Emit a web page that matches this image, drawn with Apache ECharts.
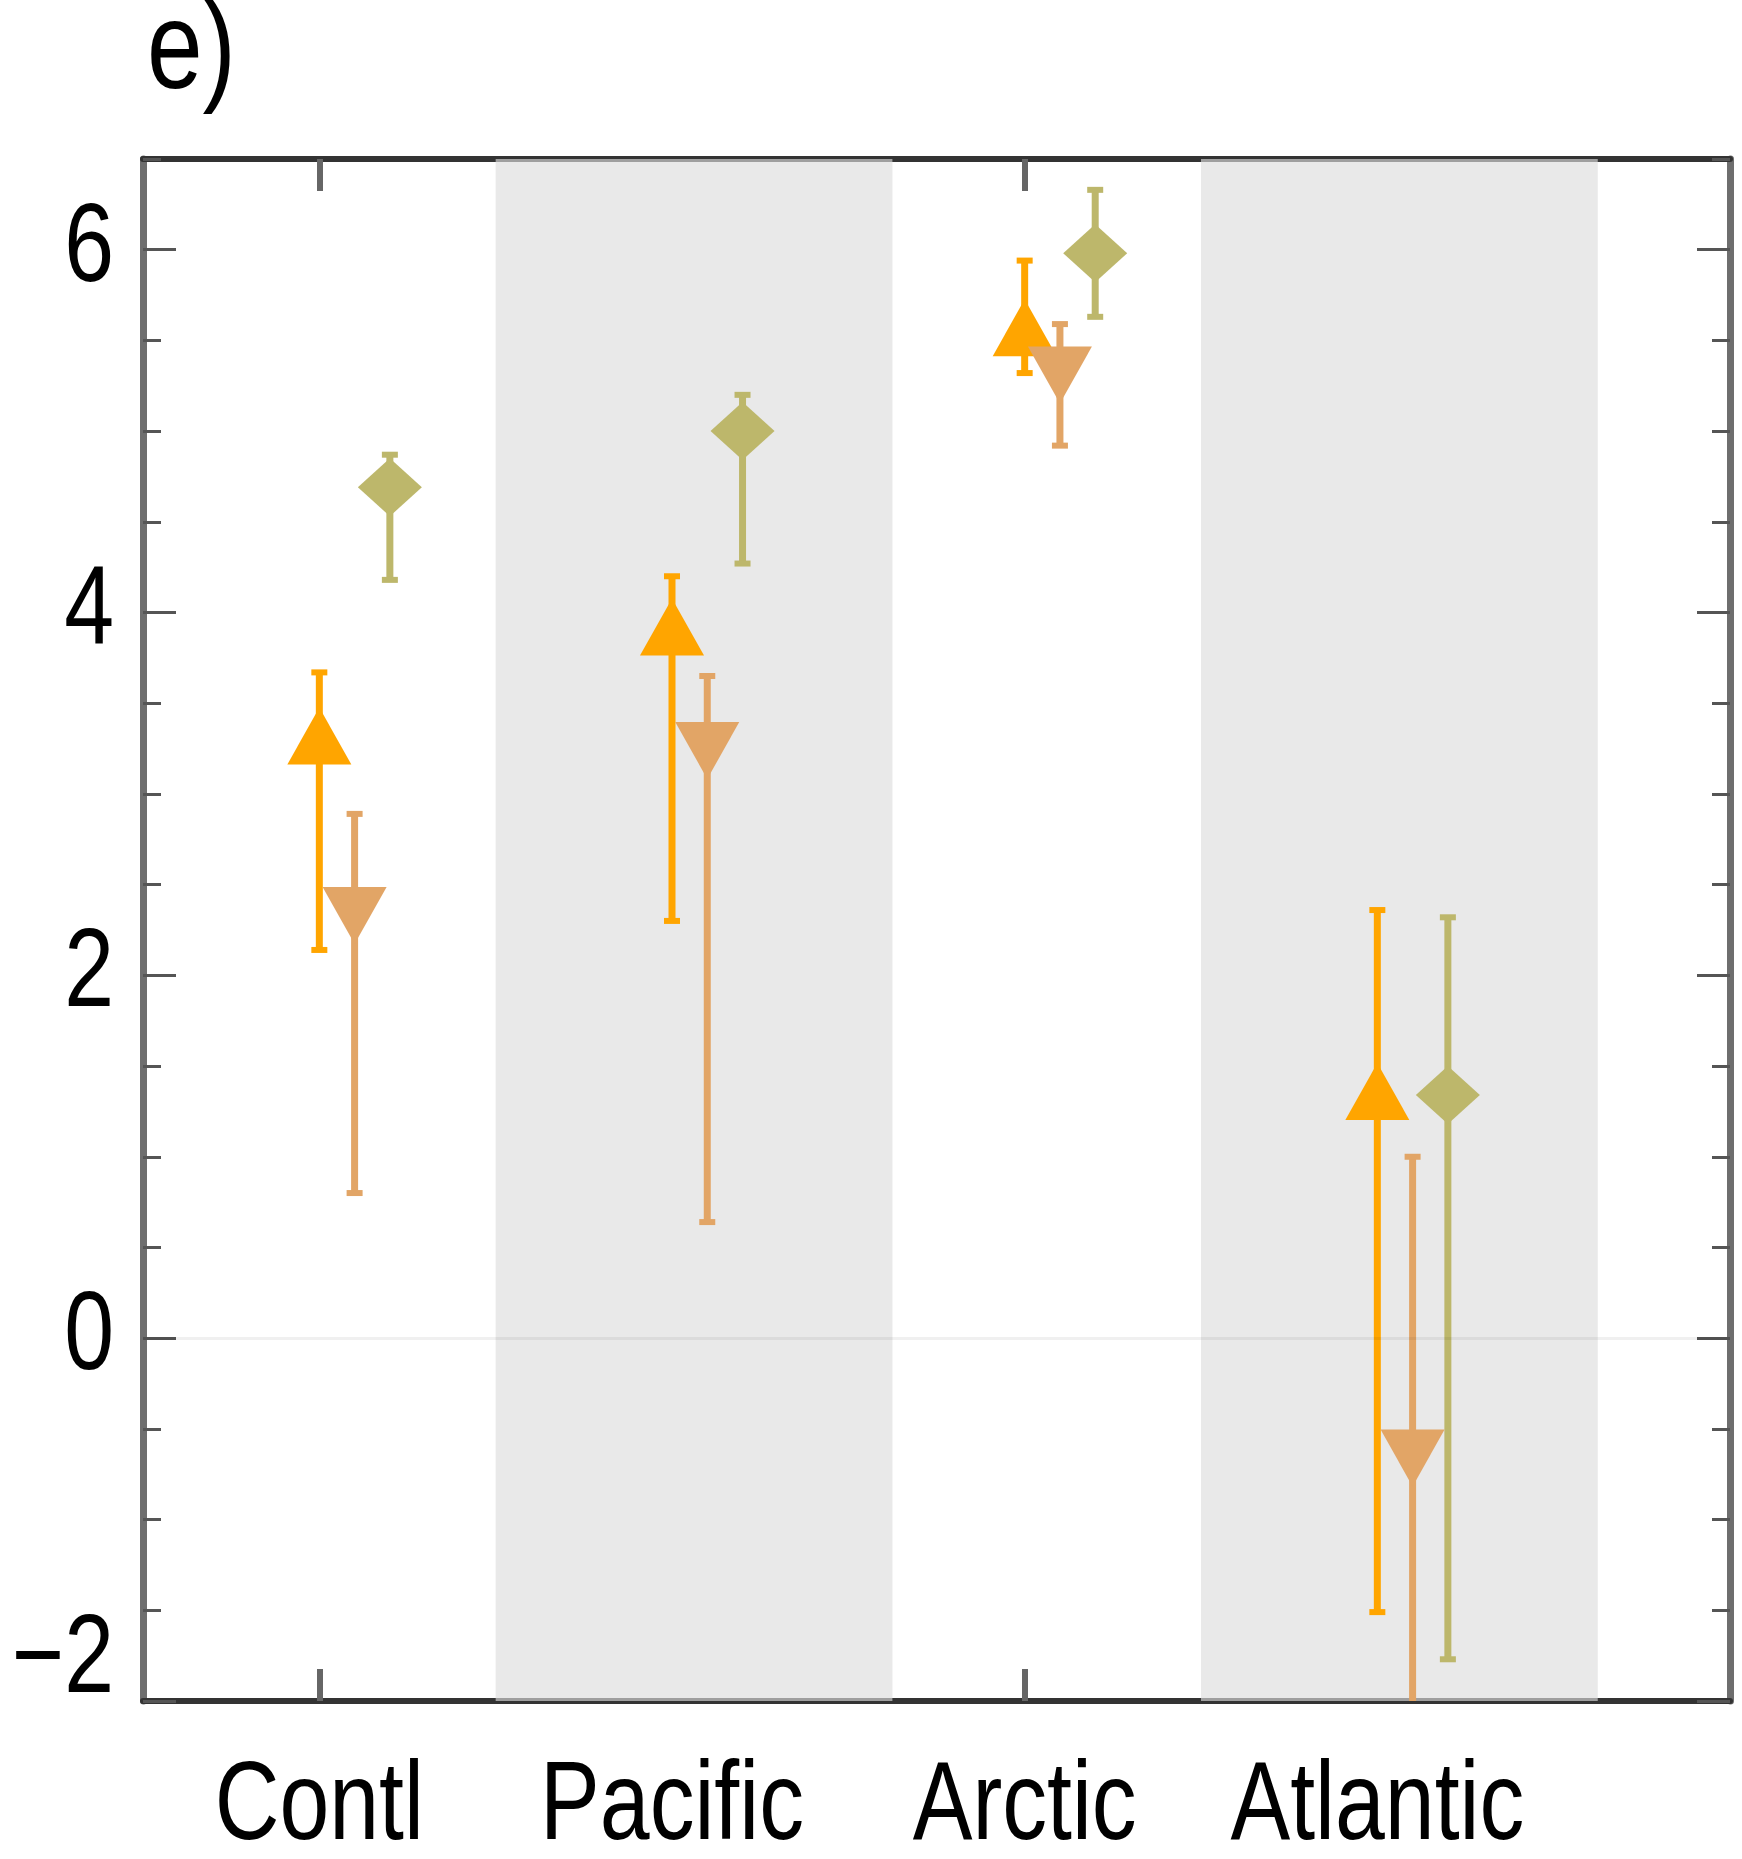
<!DOCTYPE html>
<html>
<head>
<meta charset="utf-8">
<title>e)</title>
<script src="https://cdn.jsdelivr.net/npm/echarts@6/dist/echarts.min.js"></script>
<style>
    html, body { margin: 0; padding: 0; background: #fff; }
    #chart { width: 1742px; height: 1859px; }
</style>
</head>
<body>
<div id="chart"></div>
<script>
    // regions along the x axis (value positions 1..4)
    var regions = ['Contl', 'Pacific', 'Arctic', 'Atlantic'];
    var regionPos = [1, 2, 3, 4];

    // up-triangle series
    var upMean = [3.32, 3.92, 5.57, 1.36];
    var upLow = [2.14, 2.30, 5.32, -1.51];
    var upHigh = [3.67, 4.20, 5.94, 2.36];

    // down-triangle series
    var downMean = [2.33, 3.24, 5.31, -0.66];
    var downLow = [0.80, 0.64, 4.92, -2.5];
    var downHigh = [2.89, 3.65, 5.59, 1.00];

    // diamond series
    var diaMean = [4.69, 5.00, 5.98, 1.34];
    var diaLow = [4.18, 4.27, 5.63, -1.77];
    var diaHigh = [4.87, 5.20, 6.33, 2.32];

    var yTicks = [-2, 0, 2, 4, 6];
    var xTicks = [1, 3];
    var shadedBands = [[1.5, 2.625], [3.5, 4.625]];

    var font = "'Liberation Sans', Arial, sans-serif";
    // the original lettering is narrow, squeeze it horizontally
    var squeeze = 0.8;

    function points (mean, offset) {
        return mean.map(function (v, i) { return [regionPos[i] + offset, v]; });
    }

    function bars (low, high, offset) {
        return low.map(function (v, i) { return [regionPos[i] + offset, v, high[i]]; });
    }

    function renderErrorBar (params, api) {
        var x = api.value(0);
        var lo = api.coord([x, api.value(1)]);
        var hi = api.coord([x, api.value(2)]);
        var color = api.visual('color');
        return {
            type: 'group',
            children: [
                { type: 'line', shape: { x1: lo[0], y1: lo[1], x2: hi[0], y2: hi[1] }, style: { stroke: color, lineWidth: 7 } },
                { type: 'rect', shape: { x: hi[0] - 8, y: hi[1] - 3, width: 16, height: 6 }, style: { fill: color } },
                { type: 'rect', shape: { x: lo[0] - 8, y: lo[1] - 3, width: 16, height: 6 }, style: { fill: color } }
            ]
        };
    }

    function errorSeries (low, high, offset, color) {
        return {
            type: 'custom',
            clip: true,
            renderItem: renderErrorBar,
            itemStyle: { color: color, opacity: 0.92 },
            encode: { x: 0, y: [1, 2] },
            data: bars(low, high, offset),
            silent: true
        };
    }

    function markerSeries (mean, offset, symbol, size, rotate, color) {
        return {
            type: 'scatter',
            data: points(mean, offset),
            symbol: symbol,
            symbolSize: size,
            symbolRotate: rotate,
            itemStyle: { color: color, opacity: 1 },
            silent: true
        };
    }

    function yAxisOf (position, major) {
        return {
            type: 'value',
            position: position,
            min: -2,
            max: 6.5,
            interval: 0.5,
            splitLine: { show: false },
            axisLine: { show: major, onZero: false, lineStyle: { color: '#6e6e6e', width: 7 } },
            axisTick: {
                show: true,
                inside: true,
                length: major ? 33 : 18,
                customValues: major ? yTicks : undefined,
                lineStyle: { color: '#555', width: 3 }
            },
            axisLabel: { show: false }
        };
    }

    function xAxisOf (position) {
        return {
            type: 'value',
            position: position,
            min: 0.5,
            max: 5,
            splitLine: { show: false },
            axisLine: { show: true, onZero: false, lineStyle: { color: '#333', width: 6 } },
            axisTick: { show: true, inside: true, length: 32, customValues: xTicks, lineStyle: { color: '#666', width: 6 } },
            axisLabel: { show: false }
        };
    }

    function label (text, x, y, size, align) {
        return {
            type: 'text',
            x: x,
            y: y,
            scaleX: squeeze,
            silent: true,
            style: {
                text: text,
                fill: '#000',
                fontFamily: font,
                fontSize: size,
                align: align,
                verticalAlign: 'middle'
            }
        };
    }

    var chart = echarts.init(document.getElementById('chart'));

    chart.setOption({
        animation: false,
        backgroundColor: '#fff',
        grid: { left: 143, right: 12, top: 159, bottom: 158, containLabel: false, outerBoundsMode: 'none' },
        xAxis: [xAxisOf('bottom'), xAxisOf('top')],
        yAxis: [yAxisOf('left', true), yAxisOf('left', false), yAxisOf('right', true), yAxisOf('right', false)],
        series: [
            {
                type: 'scatter',
                data: [],
                silent: true,
                markArea: {
                    silent: true,
                    itemStyle: { color: 'rgba(221, 221, 221, 0.64)' },
                    data: shadedBands.map(function (b) { return [{ xAxis: b[0] }, { xAxis: b[1] }]; })
                },
                markLine: {
                    silent: true,
                    symbol: 'none',
                    label: { show: false },
                    lineStyle: { color: 'rgba(0, 0, 0, 0.06)', width: 3, type: 'solid' },
                    data: [{ yAxis: 0 }]
                }
            },
            errorSeries(upLow, upHigh, 0, '#FFA500'),
            markerSeries(upMean, 0, 'triangle', [64, 57], 0, '#FFA500'),
            errorSeries(downLow, downHigh, 0.1, '#E2A566'),
            markerSeries(downMean, 0.1, 'triangle', [64, 57], 180, '#E2A566'),
            errorSeries(diaLow, diaHigh, 0.2, '#BDB76B'),
            markerSeries(diaMean, 0.2, 'diamond', [64, 58], 0, '#BDB76B')
        ]
    });

    // tick labels and panel letter, placed through the axis scales
    var plotLeft = chart.convertToPixel({ xAxisIndex: 0 }, 0.5);
    var plotBottom = chart.convertToPixel({ yAxisIndex: 0 }, -2);
    var texts = [label('e)', 147, 54, 125, 'left')];

    yTicks.forEach(function (v) {
        var y = chart.convertToPixel({ yAxisIndex: 0 }, v);
        var text = v < 0 ? '\u2212' + Math.abs(v) : String(v);
        // lowest label sits on top of the frame edge
        texts.push(label(text, plotLeft - 29, v === yTicks[0] ? y - 40 : y, 112, 'right'));
    });

    regions.forEach(function (name, i) {
        var x = chart.convertToPixel({ xAxisIndex: 0 }, regionPos[i]);
        texts.push(label(name, x, plotBottom + 107, 112, 'center'));
    });

    chart.setOption({ graphic: { elements: texts } });
</script>
</body>
</html>
